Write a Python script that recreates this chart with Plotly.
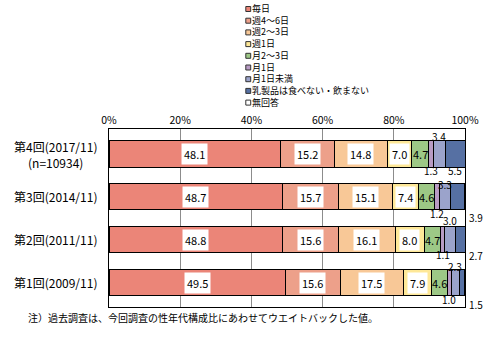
import plotly.graph_objects as go

# ---- data ----
categories = ["第4回(2017/11)<br>(n=10934)", "第3回(2014/11)", "第2回(2011/11)", "第1回(2009/11)"]
series_names = ["毎日", "週4～6日", "週2～3日", "週1日", "月2～3日", "月1日", "月1日未満",
                "乳製品は食べない・飲まない", "無回答"]
v_daily = [48.1, 48.7, 48.8, 49.5]
v_w46 = [15.2, 15.7, 15.6, 15.6]
v_w23 = [14.8, 15.1, 16.1, 17.5]
v_w1 = [7.0, 7.4, 8.0, 7.9]
v_m23 = [4.7, 4.6, 4.7, 4.6]
v_m1 = [1.3, 1.2, 1.1, 1.0]
v_mlt1 = [3.4, 3.3, 3.0, 2.3]
v_none = [5.5, 3.9, 2.7, 1.5]
v_na = [0.0, 0.1, 0.0, 0.1]
series_values = [v_daily, v_w46, v_w23, v_w1, v_m23, v_m1, v_mlt1, v_none, v_na]
footnote = "注）過去調査は、今回調査の性年代構成比にあわせてウエイトバックした値。"

# ---- style ----
colors = ["#EB8578", "#EDA08A", "#F8C897", "#FEE898", "#9DC886", "#B89BC4", "#9BA3CB", "#5670A3", "#FFFFFF"]
FONT = "Noto Sans CJK JP"
W, H = 491, 345
ML, MR, MT, MB = 109, 19, 129, 38
PW, PH = W - ML - MR, H - MT - MB

def px_x(p):
    return (p - ML) / PW

def px_y(p):
    return (H - MB - p) / PH

fig = go.Figure()
for name, vals, col in zip(series_names, series_values, colors):
    fig.add_trace(go.Bar(
        y=categories, x=vals, name=name, orientation="h",
        marker=dict(color=col, line=dict(color="black", width=1)),
        hoverinfo="x+name", showlegend=False,
    ))

annotations = []
shapes = []

# inside labels (first five series)
inside_bg = ["white", "white", "white", "white", "rgba(0,0,0,0)"]
for ci, cat in enumerate(categories):
    cum = 0.0
    for si, vals in enumerate(series_values):
        v = vals[ci]
        if si < 5:
            annotations.append(dict(
                x=cum + v / 2, y=cat, xref="x", yref="y", text=f"{v:.1f}",
                showarrow=False, font=dict(family=FONT, size=11, color="black"),
                bgcolor=inside_bg[si], borderpad=2,
            ))
        cum += v

# outside labels for small series: (series index, category index, yshift, x mode)
outside = [
    (5, 0, -16.5, "c"), (6, 0, 18, "c"), (7, 0, -16.5, "c"),
    (5, 1, -17, "c"), (6, 1, 12, "c"), (7, 1, -21, "r"),
    (5, 2, -15, "c"), (6, 2, 19, "c"), (7, 2, -16, "r"),
    (5, 3, -17, "c"), (6, 3, 16, "c"), (7, 3, -22, "r"),
]
for si, ci, ys, mode in outside:
    start = sum(series_values[k][ci] for k in range(si))
    v = series_values[si][ci]
    if mode == "c":
        annotations.append(dict(
            x=start + v / 2, y=categories[ci], xref="x", yref="y", text=f"{v:.1f}",
            showarrow=False, yshift=ys, font=dict(family=FONT, size=10, color="black"),
            borderpad=0,
        ))
    else:
        annotations.append(dict(
            x=100, y=categories[ci], xref="x", yref="y", text=f"{v:.1f}",
            showarrow=False, yshift=ys, xanchor="left", xshift=3,
            font=dict(family=FONT, size=10, color="black"), borderpad=0,
        ))

# category labels
for cat in categories:
    annotations.append(dict(
        x=px_x(99), y=cat, xref="paper", yref="y", text=cat, showarrow=False,
        xanchor="right", align="center", font=dict(family=FONT, size=12, color="black"),
    ))

# legend (manual, one multi-line text block)
LEG_SIZE = 9
LEG_STEP = 1.3 * LEG_SIZE
LEG_TOP_CY = 9.0
for i, col in enumerate(colors):
    cy = LEG_TOP_CY + LEG_STEP * i
    shapes.append(dict(
        type="rect", xref="paper", yref="paper",
        x0=px_x(248.5), x1=px_x(253.5), y0=px_y(cy + 2.5), y1=px_y(cy - 2.5),
        fillcolor=col, line=dict(color="#333333", width=1),
    ))
annotations.append(dict(
    x=px_x(254), y=px_y(LEG_TOP_CY + LEG_STEP * (len(colors) - 1) / 2),
    xref="paper", yref="paper", text="<br>".join(series_names),
    showarrow=False, xanchor="left", yanchor="middle", align="left", borderpad=0,
    font=dict(family=FONT, size=LEG_SIZE, color="black"),
))

# footnote
annotations.append(dict(
    x=px_x(25), y=px_y(317), xref="paper", yref="paper", text=footnote,
    showarrow=False, xanchor="left", yanchor="middle", borderpad=0,
    font=dict(family=FONT, size=10, color="black"),
))

fig.update_layout(
    width=W, height=H, margin=dict(l=ML, r=MR, t=MT, b=MB),
    barmode="stack", bargap=0.39,
    paper_bgcolor="white", plot_bgcolor="white",
    font=dict(family=FONT, size=10, color="black"),
    annotations=annotations, shapes=shapes, showlegend=False,
    xaxis=dict(
        side="top", range=[0, 100], dtick=20, ticksuffix="%",
        showgrid=True, gridcolor="#8C8C8C", gridwidth=1, zeroline=False,
        showline=True, linecolor="black", linewidth=1, mirror=True,
        ticks="", tickfont=dict(family=FONT, size=10.5, color="black"),
    ),
    yaxis=dict(
        autorange="reversed", showticklabels=False, ticks="",
        showline=True, linecolor="black", linewidth=1, mirror=True,
        showgrid=False, zeroline=False,
    ),
)

fig.write_html("out.html")
